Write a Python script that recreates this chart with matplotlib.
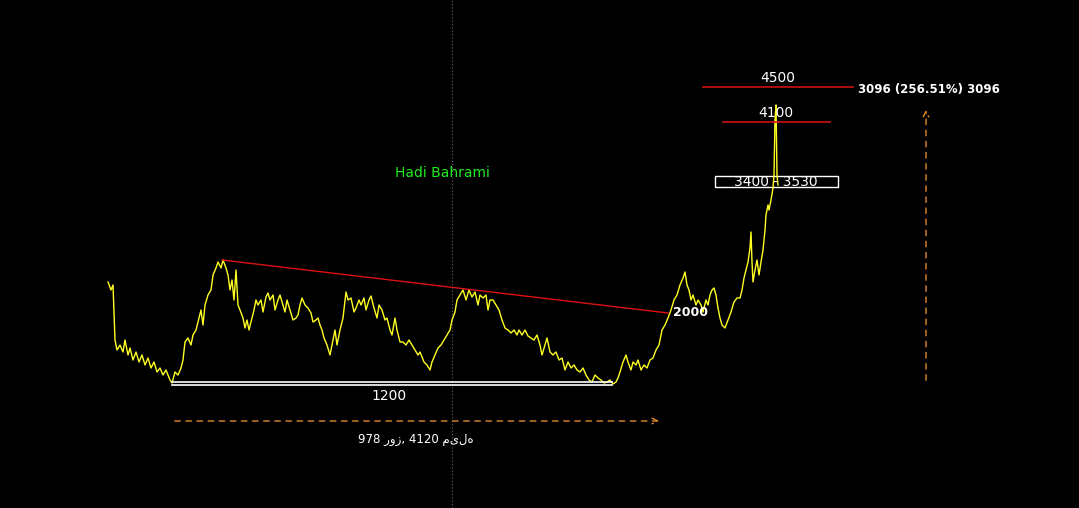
import matplotlib
matplotlib.use("Agg")
import matplotlib.pyplot as plt
from matplotlib.patches import Rectangle

# price path as (pixel x, pixel y) then converted to day / price
px = [108,111,113,115,117,120,123,125,128,130,133,136,139,142,145,148,151,154,157,160,163,166,170,172,175,178,181,183,185,188,191,193,196,199,201,203,205,208,211,213,216,218,221,223,226,228,230,232,234,236,238,240,243,245,247,249,251,254,256,258,261,263,266,268,270,273,275,278,280,283,285,287,290,293,296,298,300,302,305,308,311,313,316,318,320,322,324,327,330,332,335,337,340,343,346,348,351,354,356,359,361,364,366,369,371,374,377,379,382,385,387,390,392,395,397,400,403,406,409,412,415,418,420,424,427,430,432,435,438,441,444,447,450,452,455,457,460,463,466,469,472,475,478,480,483,486,488,490,493,496,499,502,505,508,511,514,517,519,522,525,528,531,534,537,540,542,545,547,550,553,556,559,562,565,568,571,574,577,580,583,586,589,592,595,598,601,604,607,610,613,616,618,620,623,626,628,631,633,636,638,641,644,647,650,653,656,659,662,665,668,671,674,677,680,683,685,687,689,691,693,696,698,701,703,706,708,710,712,714,716,718,720,722,725,728,731,734,737,740,742,744,746,748,750,751,752,753,755,757,759,761,763,765,766,768,769,771,773,774,775,776,777,778]
py = [282,290,285,340,350,345,352,340,355,348,360,352,362,355,365,358,368,362,372,368,375,370,380,383,372,375,368,360,342,338,345,335,330,318,310,325,305,295,290,275,268,262,268,260,268,275,290,280,300,270,305,310,318,328,320,330,322,310,300,305,300,312,297,293,300,295,310,300,295,305,312,300,310,320,318,315,305,298,305,308,313,322,320,318,325,330,338,345,355,345,330,345,330,318,292,300,298,312,308,300,305,298,310,300,296,308,318,305,310,320,318,330,335,318,330,342,342,345,340,345,350,355,352,362,365,370,362,355,348,345,340,335,330,320,312,300,295,290,300,290,297,292,305,295,298,295,310,300,300,305,310,320,328,330,333,330,335,330,335,330,336,338,340,335,345,355,345,338,352,355,352,360,358,370,362,368,365,370,372,368,375,380,382,375,378,380,383,382,380,384,382,378,372,362,355,362,370,362,365,360,370,365,368,360,358,350,345,330,325,318,310,300,295,285,278,272,285,290,300,295,305,300,305,312,300,305,295,290,288,295,308,318,325,328,320,312,302,298,298,290,278,270,262,248,232,262,282,270,260,275,262,250,230,215,205,210,200,188,175,120,105,175,185]

def day(x): return (x - 108) * 2.0
def price(y): return 4500 - (y - 87) * 11.43

days = [day(x) for x in px]
prices = [price(y) for y in py]

support = 1200
trend_start = (day(222), price(260))
trend_end = (day(668), price(313))
targets = [4500, 4100]
zone = (3400, 3530)

fig = plt.figure(figsize=(10.79, 5.08), dpi=100, facecolor="black")
ax = fig.add_axes([0, 0, 1, 1])
ax.set_facecolor("black")
ax.set_xlim(day(0), day(1079))
ax.set_ylim(price(508), price(0))
ax.axis("off")

ax.axvline(day(452), color="#666666", lw=0.8, ls=(0, (1, 2)))
ax.plot(days, prices, color="#ffff22", lw=1.0)

# support double line
for yy in (price(381.5), price(385)):
    ax.plot([day(172), day(612)], [yy, yy], color="white", lw=1.2)
ax.text(day(389), price(396), str(support), color="white", fontsize=10, ha="center", va="center")

ax.plot([trend_start[0], trend_end[0]], [trend_start[1], trend_end[1]], color="#dd1111", lw=1)
ax.text(day(673), price(313), "2000", color="white", fontsize=9, fontweight="bold", ha="left", va="center")

ax.text(day(442), price(173), "Hadi Bahrami", color="#22ee22", fontsize=10, ha="center", va="center")

ax.annotate("", xy=(day(662), price(421)), xytext=(day(172), price(421)),
            arrowprops=dict(arrowstyle="->", color="#e08a30", ls=(0, (4, 4)), lw=1))
ax.text(day(416), price(440), "978 روز, 4120 میله", color="white", fontsize=8.5, ha="center", va="center",
        family=["DejaVu Sans"])

ax.plot([day(703), day(853)], [targets[0]] * 2, color="#cc1111", lw=1.2)
ax.text(day(778), price(78), str(targets[0]), color="white", fontsize=10, ha="center", va="center")
ax.plot([day(723), day(830)], [targets[1]] * 2, color="#cc1111", lw=1.2)
ax.text(day(776), price(113), str(targets[1]), color="white", fontsize=10, ha="center", va="center")

ax.text(day(858), price(90), "3096 (256.51%) 3096", color="white", fontsize=8.5, fontweight="bold",
        ha="left", va="center")
ax.annotate("", xy=(day(926), price(107)), xytext=(day(926), price(383)),
            arrowprops=dict(arrowstyle="->", color="#e08a30", ls=(0, (4, 4)), lw=1))

ax.add_patch(Rectangle((day(715), price(187)), day(838) - day(715), price(176) - price(187),
                       fill=False, edgecolor="white", lw=1))
ax.text(day(776), price(182), f"{zone[0]} - {zone[1]}", color="white", fontsize=10, ha="center", va="center")

fig.savefig("out.png", dpi=100, facecolor="black")
